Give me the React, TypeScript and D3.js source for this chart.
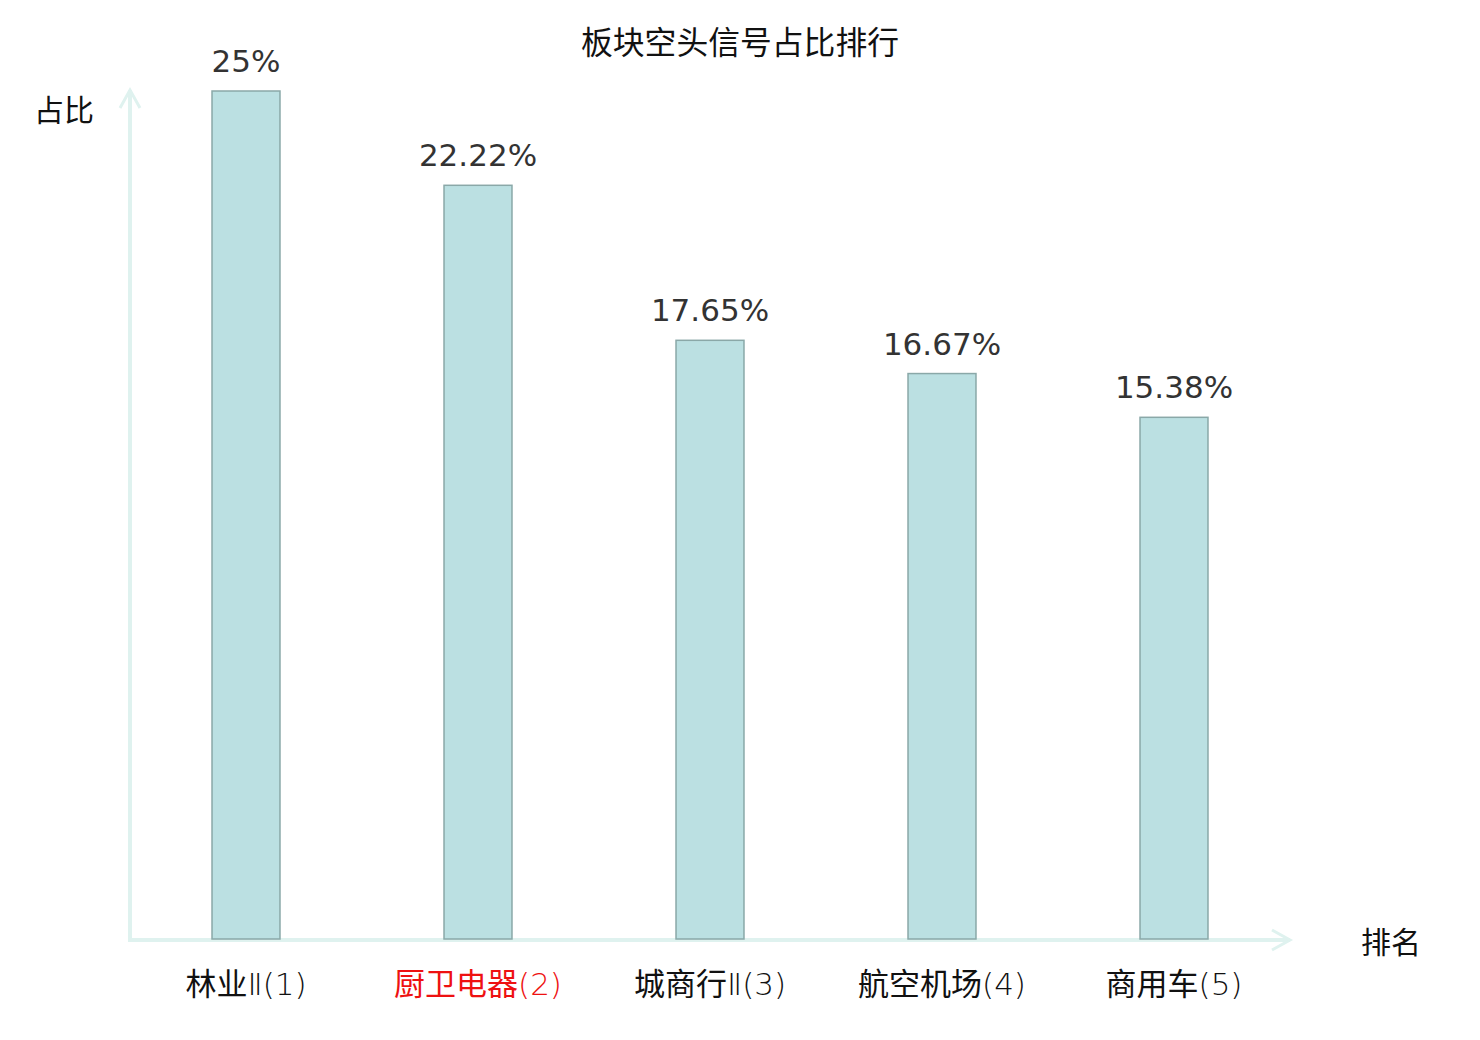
import React from "react"
import * as d3 from "d3"

const categories = ["林业Ⅱ(1)", "厨卫电器(2)", "城商行Ⅱ(3)", "航空机场(4)", "商用车(5)"]
const values = [25, 22.22, 17.65, 16.67, 15.38]
const valueLabels = ["25%", "22.22%", "17.65%", "16.67%", "15.38%"]
const highlighted = ["厨卫电器(2)"]

const W = 1480
const H = 1040
const axisX0 = 130
const axisX1 = 1290
const axisY0 = 939
const plotTop = 91

const CJK = "'Noto Sans CJK SC', 'Noto Sans', sans-serif"
const NUM = "'DejaVu Sans', 'Noto Sans CJK SC', sans-serif"
const THIN = "'DejaVu Sans', 'Noto Sans CJK SC', sans-serif"

// split a label into its CJK part and the trailing "Ⅱ(n)" part
function splitLabel(s: string) {
  const m = s.match(/^([\u4e00-\u9fff]+)(.*)$/)
  return m ? [m[1], m[2]] : [s, ""]
}

export default function App() {
  const x = d3
    .scaleBand<string>()
    .domain(categories)
    .range([axisX0, axisX1])
    .paddingInner(0.707)
    .paddingOuter(0.3535)

  const y = d3.scaleLinear().domain([0, 25]).range([axisY0, plotTop])

  const axisColor = "#dff2ef"

  return (
    <svg
      width={W}
      height={H}
      style={{ position: "absolute", left: 0, top: 0, display: "block", background: "#fff" }}
    >
      <text x={740} y={54} textAnchor="middle" fontSize={31.8} fontFamily={CJK} fill="#111">
        板块空头信号占比排行
      </text>

      {/* y axis */}
      <line x1={axisX0} x2={axisX0} y1={axisY0 + 2} y2={90} stroke={axisColor} strokeWidth={4} />
      <path d={`M${axisX0 - 10},${108} L${axisX0},${90} L${axisX0 + 10},${108}`} fill="none" stroke={axisColor} strokeWidth={3} />
      <text x={34} y={121} fontSize={30} fontFamily={CJK} fill="#111">占比</text>

      {/* x axis */}
      <line x1={axisX0 - 2} x2={1290} y1={axisY0 + 1} y2={axisY0 + 1} stroke={axisColor} strokeWidth={4} />
      <path d={`M${1272},${930} L${1290},${940} L${1272},${950}`} fill="none" stroke={axisColor} strokeWidth={3} />
      <text x={1361} y={953} fontSize={30} fontFamily={CJK} fill="#111">排名</text>

      {categories.map((c, i) => {
        const bx = x(c) ?? 0
        const by = y(values[i])
        const cx = bx + x.bandwidth() / 2
        const [head, tail] = splitLabel(c)
        return (
          <g key={c}>
            <rect
              x={bx}
              y={by}
              width={x.bandwidth()}
              height={y(0) - by}
              fill="#bbe0e2"
              stroke="#8aa8a8"
              strokeWidth={1.5}
            />
            <text x={cx} y={by - 19} textAnchor="middle" fontSize={31} fontFamily={NUM} fill="#333">
              {valueLabels[i]}
            </text>
            <text
              x={cx}
              y={995}
              textAnchor="middle"
              fontSize={31}
              fontFamily={CJK}
              fill={highlighted.includes(c) ? "#ee1111" : "#111"}
            >
              {head}
              <tspan fontFamily={THIN} fontWeight={200}>{tail}</tspan>
            </text>
          </g>
        )
      })}
    </svg>
  )
}
